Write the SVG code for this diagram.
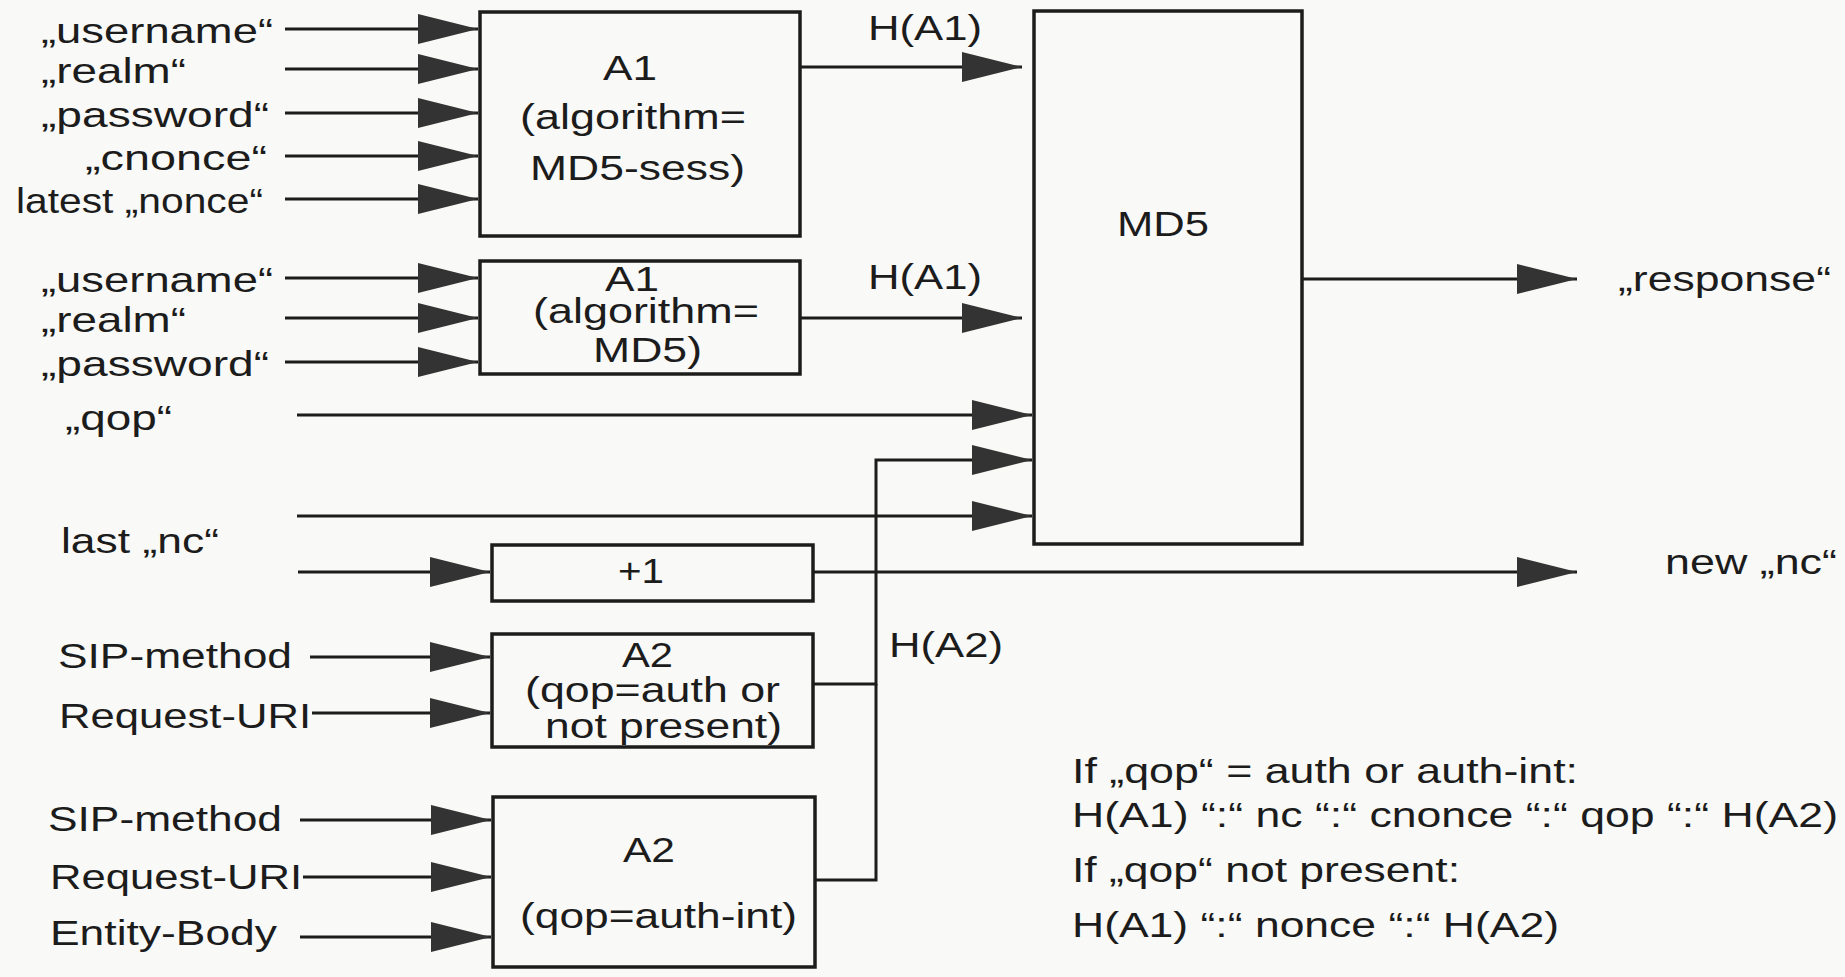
<svg xmlns="http://www.w3.org/2000/svg" width="1845" height="977" viewBox="0 0 1845 977">
<defs>
<marker id="ah" viewBox="0 0 60 30" markerWidth="60" markerHeight="30" refX="60" refY="15" markerUnits="userSpaceOnUse" orient="auto">
<path d="M0,0 L60,15 L0,30 Z" fill="#333"/>
</marker>
<style>
text{font-family:"Liberation Sans",Arial,Helvetica,sans-serif;font-size:35px;fill:#1c1c1c}
.box{fill:none;stroke:#1c1c1c;stroke-width:3.5}
.ln{fill:none;stroke:#1c1c1c;stroke-width:3}
.ar{marker-end:url(#ah)}
</style>
</defs>
<rect x="0" y="0" width="1845" height="977" fill="#f9f9f7"/>

<g id="connectors">
<line class="ln ar" x1="285" y1="29" x2="478" y2="29"/>
<line class="ln ar" x1="285" y1="69" x2="478" y2="69"/>
<line class="ln ar" x1="285" y1="113" x2="478" y2="113"/>
<line class="ln ar" x1="285" y1="156" x2="478" y2="156"/>
<line class="ln ar" x1="285" y1="199" x2="478" y2="199"/>
<line class="ln ar" x1="285" y1="278" x2="478" y2="278"/>
<line class="ln ar" x1="285" y1="318" x2="478" y2="318"/>
<line class="ln ar" x1="285" y1="362" x2="478" y2="362"/>
<line class="ln ar" x1="800" y1="67" x2="1022" y2="67"/>
<line class="ln ar" x1="800" y1="318" x2="1022" y2="318"/>
<line class="ln ar" x1="297" y1="415" x2="1032" y2="415"/>
<polyline class="ln ar" points="813,684 876,684 876,460 1032,460"/>
<polyline class="ln" points="815,880 876,880 876,684"/>
<line class="ln ar" x1="297" y1="516" x2="1032" y2="516"/>
<line class="ln ar" x1="298" y1="572" x2="490" y2="572"/>
<line class="ln ar" x1="813" y1="572" x2="1577" y2="572"/>
<line class="ln ar" x1="1302" y1="279" x2="1577" y2="279"/>
<line class="ln ar" x1="310" y1="657" x2="490" y2="657"/>
<line class="ln ar" x1="312" y1="713" x2="490" y2="713"/>
<line class="ln ar" x1="300" y1="820" x2="491" y2="820"/>
<line class="ln ar" x1="303" y1="877" x2="491" y2="877"/>
<line class="ln ar" x1="300" y1="937" x2="491" y2="937"/>
</g>

<g id="inputs-a1-sess">
<text x="41" y="43" textLength="232" lengthAdjust="spacingAndGlyphs">„username“</text>
<text x="41" y="83" textLength="145" lengthAdjust="spacingAndGlyphs">„realm“</text>
<text x="41" y="127" textLength="228" lengthAdjust="spacingAndGlyphs">„password“</text>
<text x="85" y="170" textLength="182" lengthAdjust="spacingAndGlyphs">„cnonce“</text>
<text x="16" y="213" textLength="247" lengthAdjust="spacingAndGlyphs">latest „nonce“</text>
</g>

<g id="a1-sess">
<rect class="box" x="480" y="12" width="320" height="224"/>
<text x="603" y="80" textLength="54" lengthAdjust="spacingAndGlyphs">A1</text>
<text x="520" y="129" textLength="226" lengthAdjust="spacingAndGlyphs">(algorithm=</text>
<text x="530" y="180" textLength="215" lengthAdjust="spacingAndGlyphs">MD5-sess)</text>
</g>

<g id="inputs-a1-md5">
<text x="41" y="292" textLength="232" lengthAdjust="spacingAndGlyphs">„username“</text>
<text x="41" y="332" textLength="145" lengthAdjust="spacingAndGlyphs">„realm“</text>
<text x="41" y="376" textLength="228" lengthAdjust="spacingAndGlyphs">„password“</text>
</g>

<g id="a1-md5">
<rect class="box" x="480" y="261" width="320" height="113"/>
<text x="605" y="291" textLength="54" lengthAdjust="spacingAndGlyphs">A1</text>
<text x="533" y="323" textLength="226" lengthAdjust="spacingAndGlyphs">(algorithm=</text>
<text x="593" y="362" textLength="109" lengthAdjust="spacingAndGlyphs">MD5)</text>
</g>

<g id="labels-ha1">
<text x="868" y="40" textLength="114" lengthAdjust="spacingAndGlyphs">H(A1)</text>
<text x="868" y="289" textLength="114" lengthAdjust="spacingAndGlyphs">H(A1)</text>
</g>

<g id="md5">
<rect class="box" x="1034" y="11" width="268" height="533"/>
<text x="1117" y="236" textLength="92" lengthAdjust="spacingAndGlyphs">MD5</text>
</g>

<g id="response">
<text x="1618" y="291" textLength="213" lengthAdjust="spacingAndGlyphs">„response“</text>
</g>

<g id="qop">
<text x="65" y="430" textLength="107" lengthAdjust="spacingAndGlyphs">„qop“</text>
</g>

<g id="last-nc">
<text x="61" y="553" textLength="158" lengthAdjust="spacingAndGlyphs">last „nc“</text>
</g>

<g id="plus1">
<rect class="box" x="492" y="545" width="321" height="56"/>
<text x="618" y="583" textLength="46" lengthAdjust="spacingAndGlyphs">+1</text>
</g>

<g id="new-nc">
<text x="1665" y="574" textLength="172" lengthAdjust="spacingAndGlyphs">new „nc“</text>
</g>

<g id="inputs-a2-auth">
<text x="58" y="668" textLength="234" lengthAdjust="spacingAndGlyphs">SIP-method</text>
<text x="59" y="728" textLength="252" lengthAdjust="spacingAndGlyphs">Request-URI</text>
</g>

<g id="a2-auth">
<rect class="box" x="492" y="634" width="321" height="113"/>
<text x="622" y="667" textLength="51" lengthAdjust="spacingAndGlyphs">A2</text>
<text x="525" y="702" textLength="255" lengthAdjust="spacingAndGlyphs">(qop=auth or</text>
<text x="545" y="738" textLength="237" lengthAdjust="spacingAndGlyphs">not present)</text>
</g>

<g id="inputs-a2-authint">
<text x="48" y="831" textLength="234" lengthAdjust="spacingAndGlyphs">SIP-method</text>
<text x="50" y="889" textLength="252" lengthAdjust="spacingAndGlyphs">Request-URI</text>
<text x="50" y="945" textLength="227" lengthAdjust="spacingAndGlyphs">Entity-Body</text>
</g>

<g id="a2-authint">
<rect class="box" x="493" y="797" width="322" height="170"/>
<text x="623" y="862" textLength="52" lengthAdjust="spacingAndGlyphs">A2</text>
<text x="520" y="928" textLength="277" lengthAdjust="spacingAndGlyphs">(qop=auth-int)</text>
</g>

<g id="label-ha2">
<text x="889" y="657" textLength="114" lengthAdjust="spacingAndGlyphs">H(A2)</text>
</g>

<g id="notes">
<text x="1072" y="783" textLength="506" lengthAdjust="spacingAndGlyphs">If „qop“ = auth or auth-int:</text>
<text x="1072" y="827" textLength="766" lengthAdjust="spacingAndGlyphs">H(A1) “:“ nc “:“ cnonce “:“ qop “:“ H(A2)</text>
<text x="1072" y="882" textLength="388" lengthAdjust="spacingAndGlyphs">If „qop“ not present:</text>
<text x="1072" y="937" textLength="487" lengthAdjust="spacingAndGlyphs">H(A1) “:“ nonce “:“ H(A2)</text>
</g>
</svg>
